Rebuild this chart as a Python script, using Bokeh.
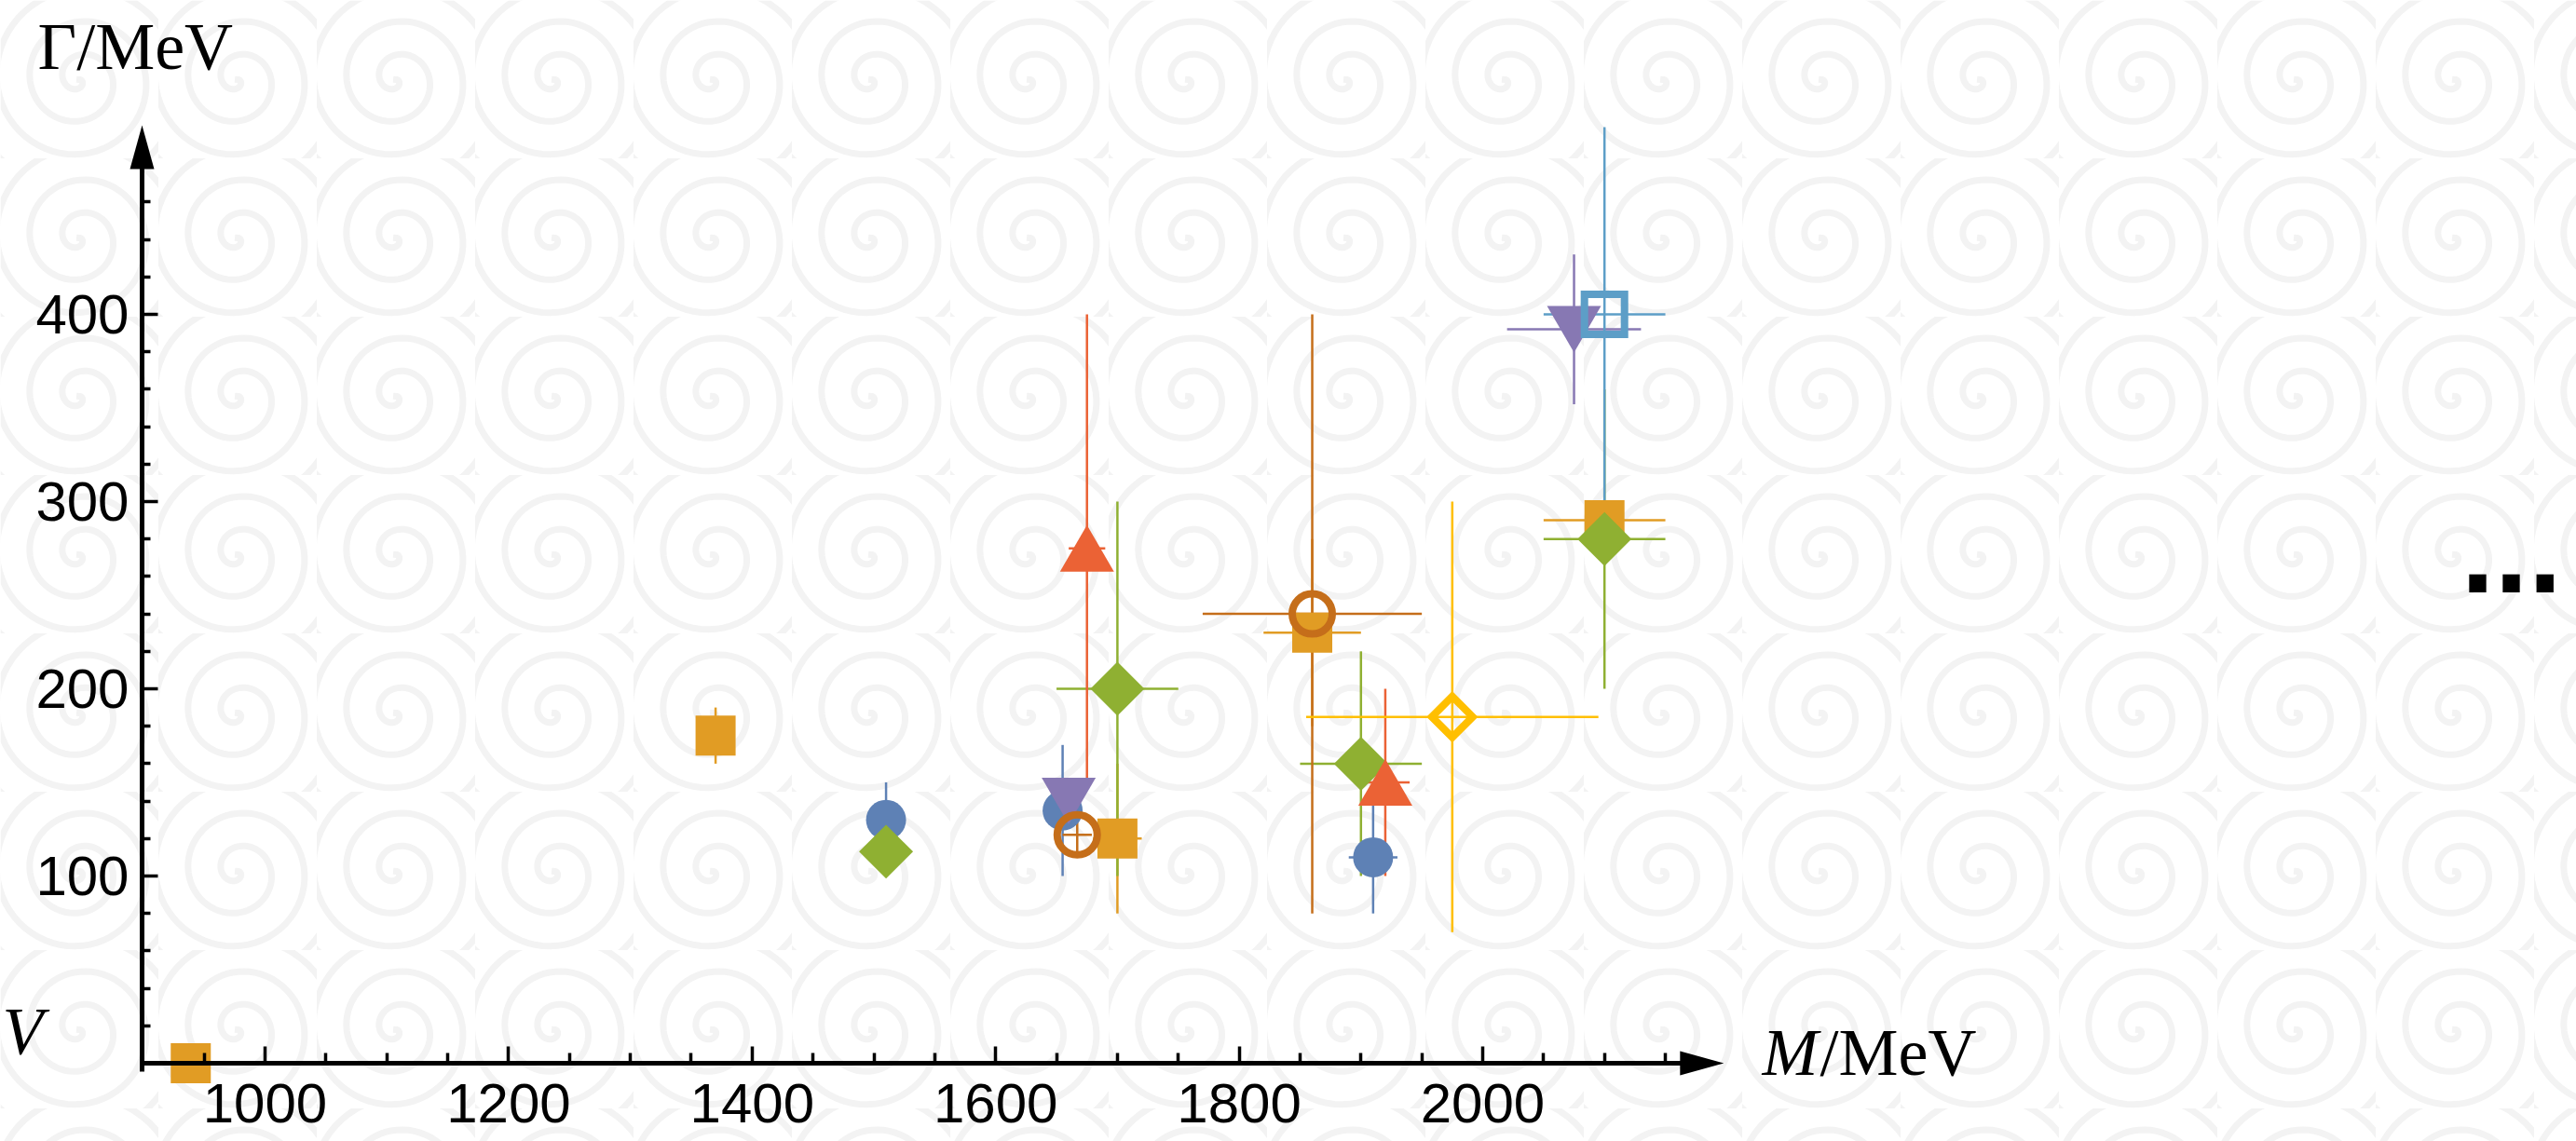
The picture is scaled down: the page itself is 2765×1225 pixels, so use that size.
import math
from bokeh.plotting import figure
from bokeh.models import Range1d, FixedTicker, Label, BoxAnnotation, ColumnDataSource
from bokeh.embed import file_html
from bokeh.resources import INLINE

# ---------------- data (M in MeV, Gamma in MeV) ----------------
blue_M = [1510, 1655, 1910]
blue_G = [130, 135, 110]
blue_dM = [0, 0, 20]
blue_dG = [20, 35, 30]

orange_M = [939, 1370, 1700, 1860, 2100]
orange_G = [0, 175, 120, 230, 290]
orange_dM = [0, 0, 20, 40, 50]
orange_dG = [0, 15, 40, 50, 0]

green_M = [1510, 1700, 1900, 2100]
green_G = [113, 200, 160, 280]
green_dM = [0, 50, 50, 50]
green_dG = [0, 100, 60, 80]

red_M = [1675, 1920]
red_G = [275, 150]
red_dM = [15, 20]
red_dG = [125, 50]

purple_M = [1660, 2075]
purple_G = [140, 392]
purple_dM = [0, 55]
purple_dG = [10, 40]

brown_M = [1667, 1860]
brown_G = [122, 240]
brown_dM = [12, 90]
brown_dG = [10, 160]

lblue_M = [2100]
lblue_G = [400]
lblue_dM = [50]
lblue_dG = [100]

yellow_M = [1975]
yellow_G = [185]
yellow_dM = [120]
yellow_dG = [115]

x_major_ticks = [1000, 1200, 1400, 1600, 1800, 2000]
x_minor_ticks = [950, 1050, 1100, 1150, 1250, 1300, 1350, 1450, 1500, 1550,
                 1650, 1700, 1750, 1850, 1900, 1950, 2050, 2100, 2150]
y_major_ticks = [100, 200, 300, 400]
y_minor_ticks = [20, 40, 60, 80, 120, 140, 160, 180, 220, 240, 260, 280,
                 320, 340, 360, 380, 420, 440, 460]

x_axis_origin = 899.0     # where the Gamma axis crosses
x_axis_end = 2198         # arrow tip of M axis
y_axis_end = 501          # arrow tip of Gamma axis

# ---------------- layout ----------------
W, H = 2765, 1225
PX_PER_M = 1.307
PX_PER_G = 2.01
PAGE_X1000 = 284.0
PAGE_Y0 = 1141.0
BASE_SHIFT = 0.36   # em; compensates label baseline placement

def px_to_x(page_x):
    return 1000 + (page_x - PAGE_X1000) / PX_PER_M

def px_to_y(page_y):
    return (PAGE_Y0 - page_y) / PX_PER_G

def base_y(page_baseline, fs):
    return px_to_y(page_baseline - BASE_SHIFT * fs)

x_start, x_end = px_to_x(0), px_to_x(W)
y_start, y_end = px_to_y(H), px_to_y(0)

p = figure(width=W, height=H, x_range=Range1d(x_start, x_end), y_range=Range1d(y_start, y_end),
           output_backend="svg", toolbar_location=None,
           min_border_left=0, min_border_right=0, min_border_top=0, min_border_bottom=0)
p.outline_line_color = None
p.xgrid.visible = False
p.ygrid.visible = False
p.background_fill_color = "#ffffff"
p.border_fill_color = "#ffffff"

# faint swirl-like background texture
p.add_layout(BoxAnnotation(fill_alpha=0, line_alpha=0, hatch_pattern="spiral",
                           hatch_color="#f3f3f3", hatch_scale=170, hatch_weight=7,
                           level="underlay"))

# ---------------- axes ----------------
xa = p.xaxis[0]
xa.fixed_location = 0
xa.bounds = (x_axis_origin, x_axis_end - 40 / PX_PER_M)
xa.ticker = FixedTicker(ticks=x_major_ticks, minor_ticks=x_minor_ticks)
xa.axis_line_width = 5
xa.axis_line_color = "black"
xa.major_tick_in = 18
xa.major_tick_out = 0
xa.minor_tick_in = 11
xa.minor_tick_out = 0
xa.major_tick_line_width = 3.5
xa.minor_tick_line_width = 3.5
xa.major_label_standoff = 22
xa.major_label_text_font = "Liberation Sans"
xa.major_label_text_font_size = "60px"
xa.major_label_text_color = "black"

ya = p.yaxis[0]
ya.fixed_location = x_axis_origin
ya.bounds = (-4.5, y_axis_end - 40 / PX_PER_G)
ya.ticker = FixedTicker(ticks=y_major_ticks, minor_ticks=y_minor_ticks)
ya.axis_line_width = 5
ya.axis_line_color = "black"
ya.major_tick_in = 17
ya.major_tick_out = 0
ya.minor_tick_in = 9
ya.minor_tick_out = 0
ya.major_tick_line_width = 3.5
ya.minor_tick_line_width = 3.5
ya.major_label_standoff = 14
ya.major_label_text_font = "Liberation Sans"
ya.major_label_text_font_size = "60px"
ya.major_label_text_color = "black"

# arrow heads (derived from axis ends)
head_len, head_hw = 47, 13
p.patch([x_axis_end, x_axis_end - head_len / PX_PER_M, x_axis_end - head_len / PX_PER_M],
        [0, head_hw / PX_PER_G, -head_hw / PX_PER_G], color="black", line_width=0)
p.patch([x_axis_origin, x_axis_origin + head_hw / PX_PER_M, x_axis_origin - head_hw / PX_PER_M],
        [y_axis_end, y_axis_end - head_len / PX_PER_G, y_axis_end - head_len / PX_PER_G],
        color="black", line_width=0)

# ---------------- series ----------------
series = [
    dict(M=blue_M, G=blue_G, dM=blue_dM, dG=blue_dG, color="#5E81B5", marker="circle", size=43, filled=True, angle=0),
    dict(M=orange_M, G=orange_G, dM=orange_dM, dG=orange_dG, color="#E19C24", marker="square", size=43, filled=True, angle=0),
    dict(M=green_M, G=green_G, dM=green_dM, dG=green_dG, color="#8FB032", marker="square", size=41, filled=True, angle=math.pi / 4),
    dict(M=red_M, G=red_G, dM=red_dM, dG=red_dG, color="#EB6235", marker="tri_up", size=58, filled=True, angle=0),
    dict(M=purple_M, G=purple_G, dM=purple_dM, dG=purple_dG, color="#8778B3", marker="tri_down", size=58, filled=True, angle=0),
    dict(M=brown_M, G=brown_G, dM=brown_dM, dG=brown_dG, color="#C56E1A", marker="circle", size=43, filled=False, angle=0),
    dict(M=lblue_M, G=lblue_G, dM=lblue_dM, dG=lblue_dG, color="#5D9EC7", marker="square", size=43, filled=False, angle=0),
    dict(M=yellow_M, G=yellow_G, dM=yellow_dM, dG=yellow_dG, color="#FFBF00", marker="square", size=31, filled=False, angle=math.pi / 4),
]

# error bars first
for s in series:
    x0, x1, y0, y1 = [], [], [], []
    for m, g, dm, dg in zip(s["M"], s["G"], s["dM"], s["dG"]):
        if dm > 0:
            x0.append(m - dm); x1.append(m + dm); y0.append(g); y1.append(g)
        if dg > 0:
            x0.append(m); x1.append(m); y0.append(g - dg); y1.append(g + dg)
    if x0:
        src = ColumnDataSource(dict(x0=x0, x1=x1, y0=y0, y1=y1))
        p.segment(x0="x0", y0="y0", x1="x1", y1="y1", source=src,
                  line_color=s["color"], line_width=2.5)

# then markers
for s in series:
    if s["marker"] in ("tri_up", "tri_down"):
        # triangle centred on its bounding box (as in the original)
        hw = s["size"] / 2 / PX_PER_M
        hh = 25 / PX_PER_G
        sgn = 1 if s["marker"] == "tri_up" else -1
        xs = [[m - hw, m + hw, m] for m in s["M"]]
        ys = [[g - sgn * hh, g - sgn * hh, g + sgn * hh] for g in s["G"]]
        p.patches(xs, ys, fill_color=s["color"], line_color=None)
        continue
    src = ColumnDataSource(dict(M=s["M"], G=s["G"]))
    if s["filled"]:
        p.scatter("M", "G", source=src, marker=s["marker"], size=s["size"], angle=s["angle"],
                  fill_color=s["color"], line_color=None)
    else:
        p.scatter("M", "G", source=src, marker=s["marker"], size=s["size"], angle=s["angle"],
                  fill_color=None, line_color=s["color"], line_width=8, line_join="miter")

# ---------------- texts ----------------
serif = "Liberation Serif"
p.add_layout(Label(x=px_to_x(40), y=base_y(75, 72), text="Γ/MeV", text_font=serif,
                   text_font_size="72px", text_color="black", text_baseline="alphabetic"))
p.add_layout(Label(x=px_to_x(1891), y=base_y(1155, 72), text="M", text_font=serif,
                   text_font_style="italic", text_font_size="72px", text_color="black",
                   text_baseline="alphabetic"))
p.add_layout(Label(x=px_to_x(1953), y=base_y(1155, 72), text="/MeV", text_font=serif,
                   text_font_size="72px", text_color="black", text_baseline="alphabetic"))
p.add_layout(Label(x=px_to_x(2), y=base_y(1132, 72), text="V", text_font=serif,
                   text_font_style="italic", text_font_size="72px", text_color="black",
                   text_baseline="alphabetic"))
p.add_layout(Label(x=px_to_x(2641), y=base_y(637, 130), text="...", text_font="Liberation Sans",
                   text_font_style="bold", text_font_size="130px", text_color="black",
                   text_baseline="alphabetic"))

open("out.html", "w").write(file_html(p, INLINE))
